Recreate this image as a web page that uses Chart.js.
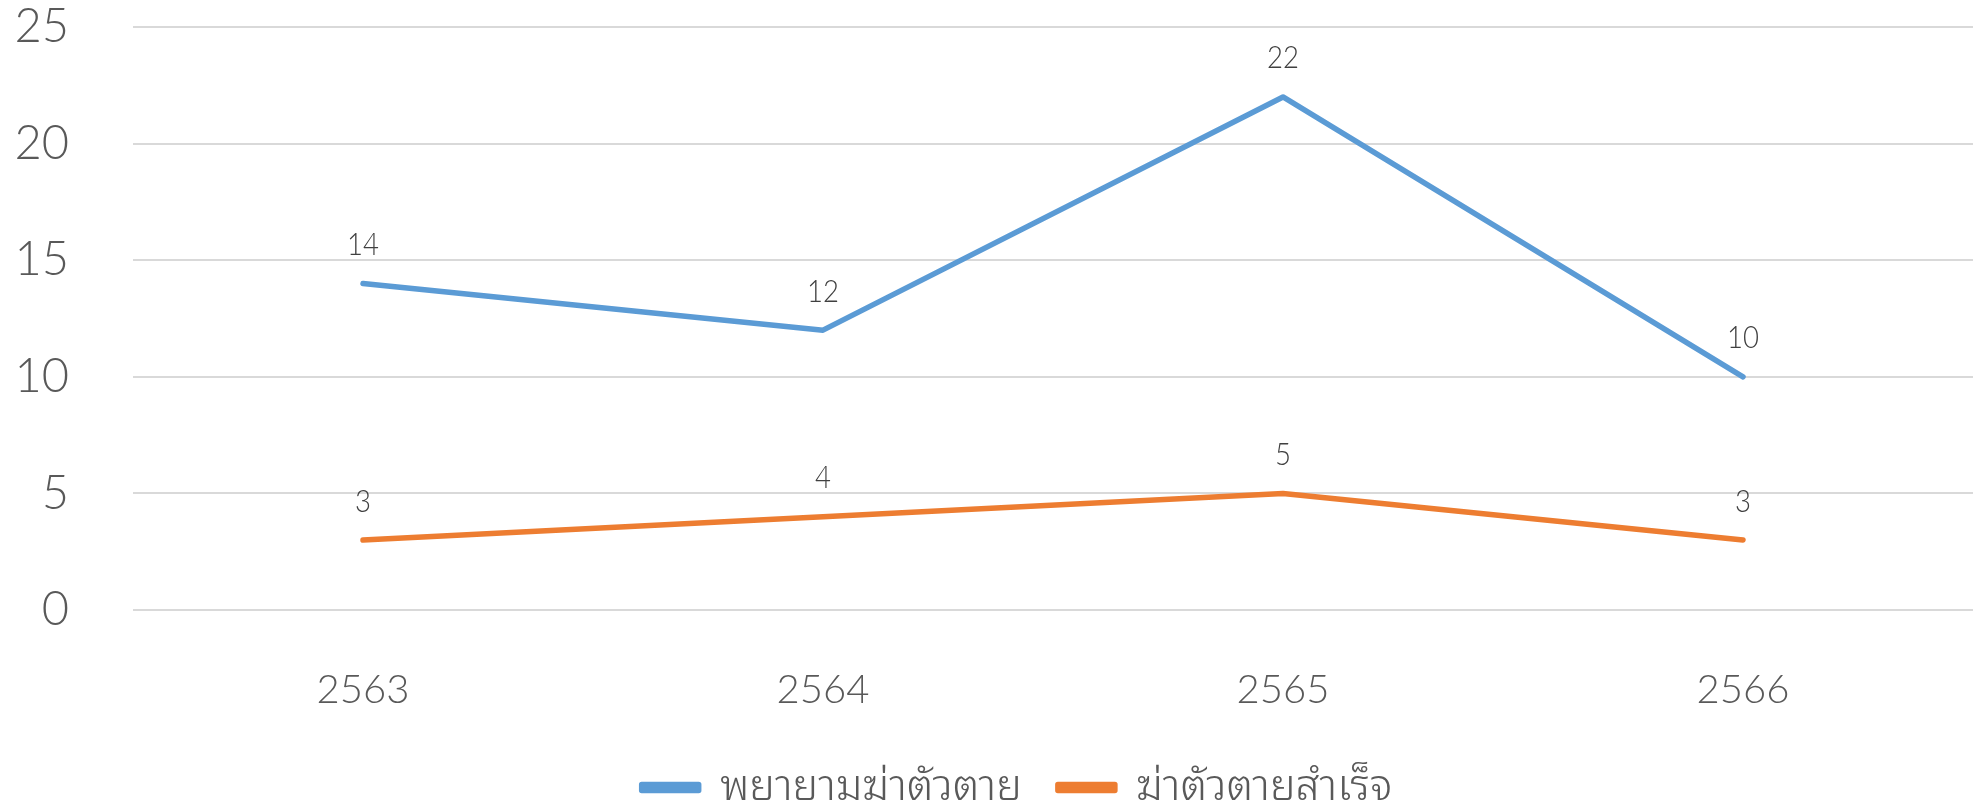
<!DOCTYPE html>
<html>
<head>
<meta charset="utf-8">
<script src="https://cdn.jsdelivr.net/npm/chart.js@4/dist/chart.umd.min.js"></script>
<style>
  html, body { margin: 0; padding: 0; background: #ffffff; }
  #wrap { width: 1975px; height: 805px; position: relative; }
</style>
</head>
<body>
<div id="wrap"><canvas id="c" width="1975" height="805"></canvas></div>
<script>
const categories = ['2563', '2564', '2565', '2566'];
const attemptedValues = [14, 12, 22, 10];
const completedValues = [3, 4, 5, 3];
const seriesNames = ['พยายามฆ่าตัวตาย', 'ฆ่าตัวตายสำเร็จ'];
const yTicks = [0, 5, 10, 15, 20, 25];

const NUM_FONT = "Lato, 'Noto Sans', sans-serif";
const THAI_FONT = "'Noto Sans Thai Looped', 'Noto Sans Thai', 'Noto Sans', sans-serif";

const dataLabelPlugin = {
  id: 'dataLabels',
  afterDatasetsDraw(chart) {
    const ctx = chart.ctx;
    ctx.save();
    ctx.font = "300 32px Lato, 'Noto Sans', sans-serif";
    ctx.fillStyle = '#404040';
    ctx.textAlign = 'center';
    ctx.textBaseline = 'alphabetic';
    chart.data.datasets.forEach((ds, i) => {
      const meta = chart.getDatasetMeta(i);
      meta.data.forEach((pt, j) => {
        ctx.save();
        ctx.translate(pt.x, pt.y - 28.5);
        ctx.scale(0.86, 1);
        ctx.fillText(String(ds.data[j]), 0, 0);
        ctx.restore();
      });
    });
    ctx.restore();
  }
};

// Shift the bottom legend slightly right, like the original (centered a bit right of the canvas)
const legendShiftPlugin = {
  id: 'legendShift',
  afterLayout(chart) {
    if (chart.legend) {
      chart.legend.left += 61;
    }
  }
};

new Chart(document.getElementById('c'), {
  type: 'line',
  data: {
    labels: categories,
    datasets: [
      {
        label: seriesNames[0],
        data: attemptedValues,
        borderColor: '#5B9BD5',
        backgroundColor: '#5B9BD5',
        borderWidth: 5.5,
        pointRadius: 0,
        borderCapStyle: 'round',
        borderJoinStyle: 'round',
        tension: 0
      },
      {
        label: seriesNames[1],
        data: completedValues,
        borderColor: '#ED7D31',
        backgroundColor: '#ED7D31',
        borderWidth: 5.5,
        pointRadius: 0,
        borderCapStyle: 'round',
        borderJoinStyle: 'round',
        tension: 0
      }
    ]
  },
  options: {
    responsive: false,
    animation: false,
    devicePixelRatio: 1,
    layout: { padding: { top: 27, right: 2, left: 0, bottom: -14 } },
    plugins: {
      tooltip: { enabled: false },
      legend: {
        position: 'bottom',
        labels: {
          boxWidth: 57,
          boxHeight: 6,
          padding: 36,
          color: '#595959',
          font: { family: THAI_FONT, size: 43, weight: 300 }
        }
      }
    },
    scales: {
      x: {
        offset: true,
        grid: { display: false, drawTicks: false },
        border: { display: false },
        ticks: {
          color: '#595959',
          padding: 56,
          font: { family: NUM_FONT, size: 40, weight: 300 }
        },
        afterFit(scale) { scale.height = 120; }
      },
      y: {
        min: 0,
        max: 25,
        afterBuildTicks(scale) { scale.ticks = yTicks.map(v => ({ value: v })); },
        grid: { color: '#D9D9D9', lineWidth: 2, drawTicks: false },
        border: { display: false },
        ticks: {
          color: '#595959',
          padding: 64,
          font: { family: NUM_FONT, size: 47, weight: 300 }
        },
        afterFit(scale) {
          scale.width = 133;
          scale.paddingTop = 0;
          scale.paddingBottom = 0;
        }
      }
    }
  },
  plugins: [dataLabelPlugin, legendShiftPlugin]
});
</script>
</body>
</html>
